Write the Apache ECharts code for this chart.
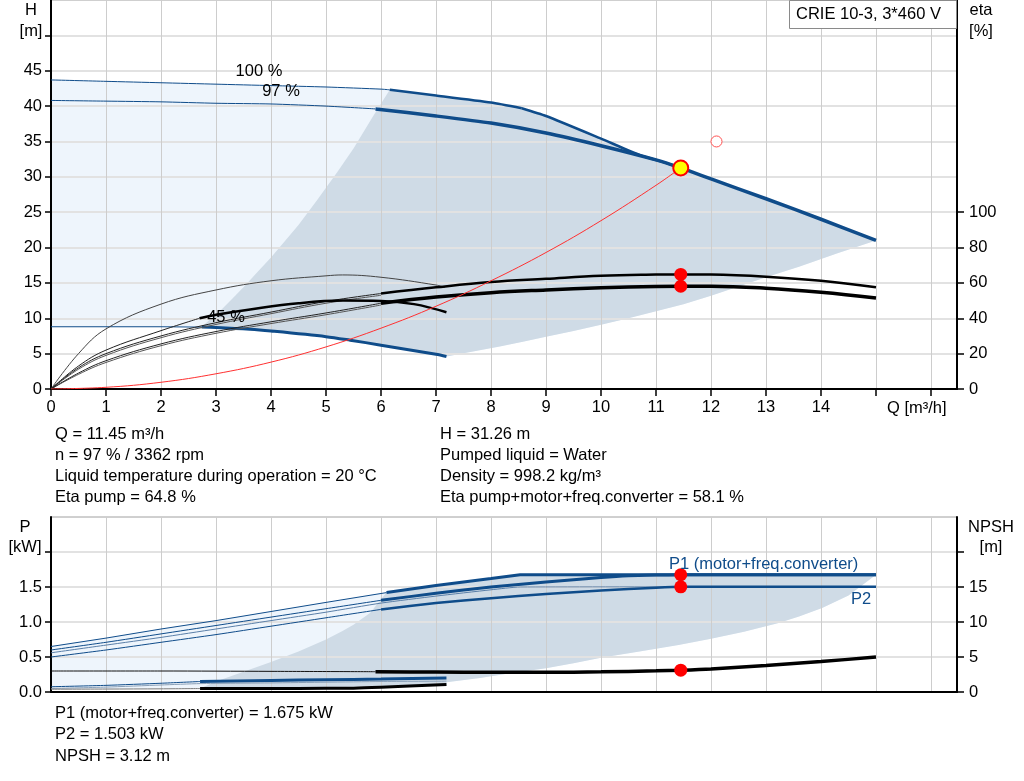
<!DOCTYPE html>
<html><head><meta charset="utf-8">
<script src="https://cdn.jsdelivr.net/npm/echarts@6/dist/echarts.min.js"></script>
<style>html,body{margin:0;padding:0;background:#fff}#c{width:1024px;height:781px}</style>
</head><body><div id="c"></div>
<script>
// ---------- tick labels ----------
const qTicks = [0,1,2,3,4,5,6,7,8,9,10,11,12,13,14,15,16];
const qTickLabels = [0,1,2,3,4,5,6,7,8,9,10,11,12,13,14];
const hTicks = [0,5,10,15,20,25,30,35,40,45,50];
const hTickLabels = [0,5,10,15,20,25,30,35,40,45];
const etaTickLabels = [0,20,40,60,80,100];
const pTicks = [0,0.5,1,1.5,2];
const pTickLabels = [0,0.5,1,1.5];
const npshTicks = [0,5,10,15,20];
const npshTickLabels = [0,5,10,15];

// ---------- top chart: head curves [Q m3/h, H m] ----------
const h100 = [[0,43.7],[1,43.5],[2,43.3],[3,43.1],[4,42.9],[5,42.7],[6,42.4],[6.16,42.3],[7,41.5],[8,40.5],[8.56,39.7],[9,38.6],[10,35.4],[10.7,33.1],[11.2,31.9],[11.45,31.26],[12,29.7],[13,26.9],[14,24.0],[15,21.0]];
const h97 = [[0,40.8],[1,40.7],[2,40.6],[3,40.4],[4,40.3],[5,40.0],[5.9,39.6],[7,38.6],[8,37.6],[9,36.2],[10,34.4],[11,32.4],[11.45,31.26],[12,29.7],[13,26.9],[14,24.0],[15,21.0]];
const h45 = [[0,8.8],[1,8.8],[2,8.8],[2.74,8.75],[3,8.7],[3.62,8.45],[4,8.2],[5,7.4],[5.44,6.9],[6,6.2],[7,4.9],[7.19,4.6]];
const regionLeftH = [[2.74,8.75],[2.9,9.9],[3.07,11.0],[3.3,12.8],[3.5,14.4],[3.75,16.5],[4,18.6],[4.25,20.9],[4.5,23.2],[4.83,26.6],[5.2,30.6],[5.5,34.0],[5.85,38.5],[6.16,42.3]];
const regionLowerH = [[7.19,4.6],[7.6,5.2],[8.16,6.0],[8.6,6.7],[9,7.4],[9.5,8.2],[10,9.1],[10.5,10.0],[11,11.0],[11.5,12.0],[12,13.2],[12.5,14.5],[13,15.8],[13.6,17.3],[14.3,19.2],[15,21.0]];
const systemCurve = [[0,0],[1,0.24],[2,0.95],[3,2.15],[4,3.8],[5,5.95],[6,8.6],[7,11.7],[8,15.3],[9,19.3],[10,23.8],[11,28.8],[11.45,31.26]];

// ---------- top chart: efficiency curves [Q, eta %] ----------
const etaPump97 = [[0,0],[0.5,12],[1,20],[2,30],[3,37.5],[4,43.5],[5,49.5],[6,54],[7,57.5],[8,60.5],[9,62.3],[10,64],[11,64.7],[11.45,64.8],[12,64.7],[13,63.5],[14,61.2],[15,57.5]];
const etaPump100 = [[0,0],[0.5,11.2],[1,19],[2,29],[3,36.5],[4,42.6],[5,48.5],[6,53]];
const etaTot97 = [[0,0],[0.5,9],[1,16],[2,25.5],[3,32.5],[4,38],[5,43],[6,48.5],[7,52],[8,54.5],[9,56],[10,57.2],[11,58],[11.45,58.1],[12,58.1],[13,57],[14,54.7],[15,51.5]];
const etaTot100 = [[0,0],[0.5,8.3],[1,15],[2,24.5],[3,31.5],[4,37],[5,42],[6,47.5]];
const etaPump45 = [[0,0],[0.5,20],[1,34],[2,48],[3,56],[4,61.2],[5,64],[5.3,64.5],[6,63.2],[7,58.8],[7.16,57.5]];
const etaTot45 = [[0,0],[0.5,13],[1,22],[2,33],[2.7,40],[3,42],[3.62,45],[4.5,48.5],[5.3,50],[6,49.8],[6.6,48],[7.19,43.4]];

// ---------- bottom chart: power [Q, kW] and NPSH [Q, m] ----------
const p1_100 = [[0,0.65],[1,0.77],[2,0.9],[3,1.02],[4,1.15],[5,1.28],[6.1,1.42],[7,1.52],[8,1.62],[8.53,1.675],[15,1.675]];
const p1_97 = [[0,0.6],[1,0.71],[2,0.83],[3,0.95],[4,1.07],[5,1.19],[6,1.31],[7,1.41],[8,1.5],[9,1.57],[10,1.635],[10.5,1.66],[11,1.67],[11.45,1.675],[15,1.675]];
const p2_100 = [[0,0.56],[1,0.67],[2,0.78],[3,0.9],[4,1.02],[5,1.14],[6,1.27],[7,1.37],[8,1.46],[8.53,1.50],[15,1.503]];
const p2_97 = [[0,0.5],[1,0.6],[2,0.71],[3,0.82],[4,0.94],[5,1.06],[6,1.18],[7,1.27],[8,1.34],[9,1.40],[10,1.45],[11,1.49],[11.45,1.503],[15,1.503]];
const p1_45 = [[0,0.075],[1,0.095],[2,0.125],[2.71,0.15],[4,0.165],[5,0.175],[6,0.185],[7.19,0.2]];
const p2_45 = [[0,0.05],[1,0.07],[2,0.1],[2.71,0.12],[4,0.13],[5,0.14],[6,0.15],[7.19,0.155]];
const npsh97 = [[0,3.0],[2,3.0],[4,2.95],[5.9,2.9],[7,2.85],[8,2.82],[9,2.82],[10,2.88],[11,3.02],[11.45,3.12],[12,3.3],[13,3.8],[14,4.35],[15,5.0]];
const npsh45 = [[0,0.4],[1,0.42],[2,0.45],[2.71,0.49],[4,0.5],[5,0.52],[5.5,0.55],[6,0.68],[7.19,1.06]];
const regionLeftP = [[2.71,0.05],[3,0.15],[3.5,0.29],[4,0.43],[4.5,0.58],[5,0.75],[5.3,0.87],[5.5,0.96],[5.8,1.13],[6.1,1.42]];
const regionLowerP = [[2.71,0.05],[7.19,0.09],[7.19,0.14],[7.8,0.2],[8.38,0.27],[9,0.34],[9.5,0.41],[10,0.49],[10.7,0.58],[11.41,0.67],[12,0.76],[12.6,0.86],[13.23,0.985],[13.6,1.08],[14.02,1.2],[14.5,1.38],[15,1.675]];

// ---------- duty point ----------
const dutyQ = 11.45, dutyH = 31.26, dutyEtaPump = 64.8, dutyEtaTot = 58.1;
const dutyP1 = 1.675, dutyP2 = 1.503, dutyNPSH = 3.12;
const requestedPoint = [12.1, 35.0];

// ---------- styling ----------
const BLUE = '#0f4c8a', LIGHT = '#eef5fc', DARK = '#cfdbe6';
const FONT = '16.5px "Liberation Sans", Arial, sans-serif';
const rng = (d, a, b) => d.filter(p => p[0] >= a - 1e-9 && p[0] <= b + 1e-9);
const rev = d => d.slice().reverse();

function line(data, w, color, xi, yi, smooth) {
  return { type: 'line', xAxisIndex: xi, yAxisIndex: yi, data: data, symbol: 'none', showSymbol: false,
    smooth: smooth === undefined ? 0.3 : smooth,
    lineStyle: { width: w, color: color }, silent: true, z: 5, animation: false };
}
function poly(points, color, xi, yi) {
  return { type: 'custom', xAxisIndex: xi, yAxisIndex: yi, data: points, z: 1, silent: true, animation: false,
    renderItem: function (params, api) {
      if (params.dataIndex !== 0) return null;
      return { type: 'polygon', shape: { points: points.map(p => api.coord(p)) }, style: { fill: color } };
    } };
}
function pts(data, size, fill, border, bw, xi, yi) {
  return { type: 'scatter', xAxisIndex: xi, yAxisIndex: yi, data: data, symbol: 'circle', symbolSize: size,
    itemStyle: { color: fill, borderColor: border, borderWidth: bw, opacity: 1 }, z: 10, silent: true, animation: false };
}

const topLight = [[0, 8.8]].concat(h100, rev(regionLowerH), rev(h45));
const topDark = regionLeftH.concat(rng(h100, 6.17, 15), rev(regionLowerH), rev(rng(h45, 2.74, 7.18)));
const botLight = p1_100.concat(rev(regionLowerP), [[0, 0.035]]);
const botDark = regionLeftP.concat(rng(p1_100, 6.11, 15), rev(regionLowerP));

const lab = { fontFamily: '"Liberation Sans", Arial, sans-serif', fontSize: 16.5, color: '#000' };
const axisLineBlack = { show: true, lineStyle: { color: '#000', width: 2 } };
const vSplit = { show: true, lineStyle: { color: '#cdcdcd', width: 1 } };
const hSplit = { show: true, lineStyle: { color: '#e2e2e2', width: 2 } };
const QMAX = 906 / 55;

const option = {
  animation: false,
  grid: [
    { left: 51, top: 0, width: 906, height: 389, show: true, borderColor: '#a0a0a0', borderWidth: 1, backgroundColor: 'transparent' },
    { left: 51, top: 517, width: 906, height: 175, show: true, borderColor: '#a0a0a0', borderWidth: 1, backgroundColor: 'transparent' }
  ],
  xAxis: [
    { type: 'value', gridIndex: 0, min: 0, max: QMAX, interval: 1, z: 2,
      axisLine: Object.assign({ onZero: false }, axisLineBlack),
      axisTick: { show: true, length: 7, inside: false, customValues: qTicks, lineStyle: { color: '#000', width: 1.5 } },
      axisLabel: Object.assign({ customValues: qTickLabels, margin: 10 }, lab),
      splitLine: vSplit },
    { type: 'value', gridIndex: 1, min: 0, max: QMAX, interval: 1, z: 2,
      axisLine: Object.assign({ onZero: false }, axisLineBlack),
      axisTick: { show: false }, axisLabel: { show: false }, splitLine: vSplit }
  ],
  yAxis: [
    { type: 'value', gridIndex: 0, min: 0, max: 55, interval: 5, position: 'left', z: 2,
      axisLine: axisLineBlack,
      axisTick: { show: true, length: 6, customValues: hTicks, lineStyle: { color: '#000', width: 1.5 } },
      axisLabel: Object.assign({ customValues: hTickLabels, margin: 9 }, lab),
      splitLine: hSplit },
    { type: 'value', gridIndex: 0, min: 0, max: 220, interval: 20, position: 'right', z: 2,
      axisLine: axisLineBlack,
      axisTick: { show: true, length: 7, customValues: etaTickLabels, lineStyle: { color: '#000', width: 1.5 } },
      axisLabel: Object.assign({ customValues: etaTickLabels, margin: 12 }, lab),
      splitLine: { show: false } },
    { type: 'value', gridIndex: 1, min: 0, max: 2.5, interval: 0.5, position: 'left', z: 2,
      axisLine: axisLineBlack,
      axisTick: { show: true, length: 6, customValues: pTicks, lineStyle: { color: '#000', width: 1.5 } },
      axisLabel: Object.assign({ customValues: pTickLabels, margin: 9, formatter: v => Number(v).toFixed(1) }, lab),
      splitLine: hSplit },
    { type: 'value', gridIndex: 1, min: 0, max: 25, interval: 5, position: 'right', z: 2,
      axisLine: axisLineBlack,
      axisTick: { show: true, length: 7, customValues: npshTicks, lineStyle: { color: '#000', width: 1.5 } },
      axisLabel: Object.assign({ customValues: npshTickLabels, margin: 12 }, lab),
      splitLine: { show: false } }
  ],
  series: [
    poly(topLight, LIGHT, 0, 0), poly(topDark, DARK, 0, 0),
    poly(botLight, LIGHT, 1, 2), poly(botDark, DARK, 1, 2),
    line(rng(h100, 0, 6.16), 1, BLUE, 0, 0, 0.2),
    line(rng(h100, 6.16, 8.56), 2.5, BLUE, 0, 0, 0.2),
    line(rng(h100, 8.56, 11.45), 2.5, BLUE, 0, 0, 0.2),
    line(rng(h97, 0, 5.9), 1, BLUE, 0, 0, 0.2),
    line(rng(h97, 5.9, 15), 3.5, BLUE, 0, 0, 0.2),
    line(rng(h45, 0, 2.74), 1, BLUE, 0, 0, 0),
    line(rng(h45, 2.74, 7.19), 3, BLUE, 0, 0, 0.3),
    line(etaPump45, 1, '#444', 0, 1, 0.4),
    line(etaPump100, 1, '#555', 0, 1, 0.4),
    line(etaTot100, 1, '#555', 0, 1, 0.4),
    line(rng(etaPump97, 0, 6), 1, '#222', 0, 1, 0.4),
    line(rng(etaPump97, 6, 15), 2.5, '#000', 0, 1, 0.4),
    line(rng(etaTot97, 0, 6), 1, '#222', 0, 1, 0.4),
    line(rng(etaTot97, 6, 15), 3.5, '#000', 0, 1, 0.4),
    line(rng(etaTot45, 0, 2.7), 1, '#222', 0, 1, 0.4),
    line(rng(etaTot45, 2.7, 7.19), 2.5, '#000', 0, 1, 0.4),
    line(systemCurve, 1, '#ff3030', 0, 0, 0.4),
    line(rng(p1_100, 0, 6.1), 1, BLUE, 1, 2, 0),
    line(rng(p1_100, 6.1, 15), 3, BLUE, 1, 2, 0),
    line(rng(p1_97, 0, 6), 1, BLUE, 1, 2, 0.2),
    line(rng(p1_97, 6, 15), 3, BLUE, 1, 2, 0.2),
    line(p2_100, 1, '#5a7fa8', 1, 2, 0.2),
    line(rng(p2_97, 0, 6), 1, BLUE, 1, 2, 0.2),
    line(rng(p2_97, 6, 15), 2.5, BLUE, 1, 2, 0.2),
    line(rng(p1_45, 0, 2.71), 1, BLUE, 1, 2, 0.2),
    line(rng(p1_45, 2.71, 7.19), 3, BLUE, 1, 2, 0.2),
    line(p2_45, 1, '#8aa0b8', 1, 2, 0.2),
    line(rng(npsh97, 0, 5.9), 1, '#111', 1, 3, 0.3),
    line(rng(npsh97, 5.9, 15), 3.5, '#000', 1, 3, 0.3),
    line(rng(npsh45, 0, 2.71), 1, '#777', 1, 3, 0.3),
    line(rng(npsh45, 2.71, 7.19), 3, '#000', 1, 3, 0.3),
    pts([requestedPoint], 11, '#ffffff', '#ff5050', 1, 0, 0),
    pts([[dutyQ, dutyEtaPump], [dutyQ, dutyEtaTot]], 13, '#ff0000', '#ff0000', 0, 0, 1),
    pts([[dutyQ, dutyH]], 15, '#ffff00', '#ff0000', 2, 0, 0),
    pts([[dutyQ, dutyP1], [dutyQ, dutyP2]], 13, '#ff0000', '#ff0000', 0, 1, 2),
    pts([[dutyQ, dutyNPSH]], 13, '#ff0000', '#ff0000', 0, 1, 3)
  ],
  graphic: []
};

const T = (text, x, y, align, color) => ({ type: 'text', z: 100, silent: true,
  style: { text: text, x: x, y: y, font: FONT, fill: color || '#000', align: align || 'left', verticalAlign: 'middle' } });

option.graphic = [
  { type: 'rect', z: 99, silent: true, shape: { x: 789.5, y: 0.5, width: 167, height: 28 }, style: { fill: '#fff', stroke: '#8a8a8a', lineWidth: 1 } },
  T('CRIE 10-3, 3*460 V', 796, 14),
  T('H', 31, 10, 'center'), T('[m]', 31, 31, 'center'),
  T('eta', 981, 10, 'center'), T('[%]', 981, 31, 'center'),
  T('Q [m³/h]', 887, 408),
  T('P', 25, 527, 'center'), T('[kW]', 25, 547, 'center'),
  T('NPSH', 991, 527, 'center'), T('[m]', 991, 547, 'center'),
  T('100 %', 259, 71, 'center'), T('97 %', 281, 91, 'center'), T('45 %', 226, 317, 'center'),
  T('P1 (motor+freq.converter)', 669, 564, 'left', BLUE), T('P2', 851, 599, 'left', BLUE),
  T('Q = 11.45 m³/h', 55, 434), T('n = 97 % / 3362 rpm', 55, 455),
  T('Liquid temperature during operation = 20 °C', 55, 476), T('Eta pump = 64.8 %', 55, 497),
  T('H = 31.26 m', 440, 434), T('Pumped liquid = Water', 440, 455),
  T('Density = 998.2 kg/m³', 440, 476), T('Eta pump+motor+freq.converter = 58.1 %', 440, 497),
  T('P1 (motor+freq.converter) = 1.675 kW', 55, 713), T('P2 = 1.503 kW', 55, 734), T('NPSH = 3.12 m', 55, 756)
];

const chart = echarts.init(document.getElementById('c'), null, { renderer: 'canvas' });
chart.setOption(option);
</script></body></html>
